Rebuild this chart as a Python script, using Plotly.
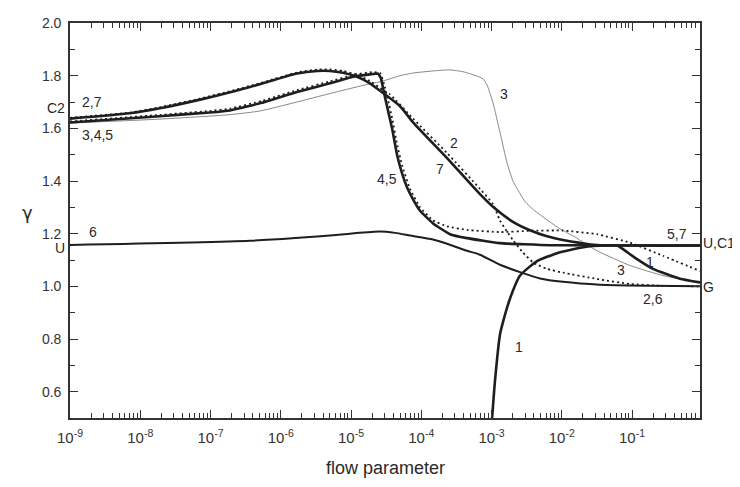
import math
import plotly.graph_objects as go

# ---------------- data ----------------
c1_x = [1.02e-3, 1.12e-3, 1.32e-3, 1.46e-3, 1.83e-3, 2.55e-3, 4.45e-3, 8.55e-3, 1.31e-2,
        2.52e-2, 4.0e-2, 6.11e-2, 7.45e-2, 0.118, 0.199, 0.482, 0.93]
c1_y = [0.50, 0.64, 0.817, 0.865, 0.953, 1.041, 1.096, 1.126, 1.138,
        1.152, 1.155, 1.155, 1.141, 1.103, 1.066, 1.029, 1.015]

c2_x = [1e-9, 7.1e-9, 1.9e-8, 7.1e-8, 2.1e-7, 5.6e-7, 1.7e-6, 3.3e-6, 5.0e-6, 7.7e-6,
        1.22e-5, 1.86e-5, 2.86e-5, 3.59e-5, 7.64e-5, 2.33e-4, 6.86e-4, 1.05e-3, 1.32e-3,
        1.66e-3, 2.02e-3, 2.81e-3, 3.9e-3, 6.17e-3, 1.04e-2, 3.18e-2, 9.4e-2, 0.276, 0.93]
c2_y = [1.640, 1.660, 1.680, 1.713, 1.744, 1.775, 1.812, 1.823, 1.824, 1.818,
        1.803, 1.780, 1.745, 1.729, 1.637, 1.506, 1.370, 1.312, 1.250,
        1.208, 1.176, 1.128, 1.091, 1.066, 1.052, 1.028, 1.009, 1.002, 1.000]

c3_x = [1e-9, 1.9e-8, 1.9e-7, 5.1e-7, 1.7e-6, 5.0e-6, 1.48e-5, 2.86e-5, 5.0e-5, 7.64e-5,
        1.47e-4, 2.56e-4, 3.93e-4, 6.0e-4, 7.57e-4, 8.63e-4, 1.05e-3, 1.32e-3, 1.66e-3,
        2.02e-3, 2.55e-3, 3.0e-3, 4.0e-3, 5.78e-3, 9.0e-3, 1.55e-2, 3.18e-2, 9.4e-2,
        0.276, 0.93]
c3_y = [1.620, 1.635, 1.652, 1.666, 1.700, 1.732, 1.763, 1.780, 1.800, 1.810,
        1.818, 1.822, 1.815, 1.800, 1.788, 1.765, 1.697, 1.585, 1.470,
        1.400, 1.352, 1.322, 1.290, 1.258, 1.222, 1.187, 1.135, 1.079,
        1.041, 1.013]

c4_x = [1e-9, 1.9e-8, 9.8e-8, 1.9e-7, 5.4e-7, 1.7e-6, 5.0e-6, 1.07e-5, 2.06e-5, 2.59e-5,
        2.95e-5, 3.35e-5, 3.84e-5, 4.52e-5, 5.32e-5, 6.92e-5, 9.6e-5, 1.47e-4, 2.33e-4,
        4.48e-4, 1.32e-3, 3.53e-3, 1.04e-2, 3.18e-2, 9.4e-2, 0.276, 0.93]
c4_y = [1.626, 1.651, 1.666, 1.675, 1.704, 1.745, 1.778, 1.803, 1.814, 1.810,
        1.770, 1.710, 1.640, 1.540, 1.460, 1.370, 1.300, 1.250, 1.228,
        1.214, 1.206, 1.211, 1.212, 1.198, 1.166, 1.116, 1.058]

c5_x = [1e-9, 1.9e-8, 9.8e-8, 1.9e-7, 5.4e-7, 1.7e-6, 5.0e-6, 1.07e-5, 1.86e-5, 2.42e-5,
        2.67e-5, 2.95e-5, 3.35e-5, 3.84e-5, 4.52e-5, 5.32e-5, 6.27e-5, 7.64e-5, 9.6e-5,
        1.47e-4, 2.56e-4, 4.48e-4, 1.32e-3, 6.8e-3, 0.93]
c5_y = [1.622, 1.646, 1.660, 1.668, 1.697, 1.738, 1.771, 1.796, 1.805, 1.808,
        1.790, 1.735, 1.670, 1.600, 1.500, 1.430, 1.376, 1.330, 1.287,
        1.239, 1.198, 1.183, 1.164, 1.156, 1.155]

c6_x = [1e-9, 3.65e-7, 3.3e-6, 9.7e-6, 2.59e-5, 4.23e-5, 6.92e-5, 1.47e-4, 2.56e-4,
        4.48e-4, 6.86e-4, 1.32e-3, 2.55e-3, 4.9e-3, 1.04e-2, 3.5e-2, 0.18, 0.93]
c6_y = [1.157, 1.173, 1.189, 1.200, 1.208, 1.203, 1.193, 1.178, 1.158,
        1.135, 1.120, 1.082, 1.054, 1.030, 1.017, 1.006, 1.002, 1.000]

c7_x = [1e-9, 7.1e-9, 1.9e-8, 7.1e-8, 2.1e-7, 5.6e-7, 1.7e-6, 3.3e-6, 5.0e-6, 7.7e-6,
        1.22e-5, 1.86e-5, 2.86e-5, 4.99e-5, 7.64e-5, 2.33e-4, 6.86e-4, 1.05e-3, 2.02e-3,
        3.53e-3, 6.17e-3, 1.04e-2, 1.82e-2, 3.18e-2, 0.93]
c7_y = [1.637, 1.657, 1.676, 1.709, 1.740, 1.771, 1.808, 1.818, 1.818, 1.811,
        1.796, 1.771, 1.734, 1.684, 1.623, 1.487, 1.350, 1.302, 1.245,
        1.213, 1.190, 1.176, 1.165, 1.157, 1.155]

x_tick_vals = [1e-9, 1e-8, 1e-7, 1e-6, 1e-5, 1e-4, 1e-3, 1e-2, 1e-1]
x_tick_text = ["10<sup>-9</sup>", "10<sup>-8</sup>", "10<sup>-7</sup>", "10<sup>-6</sup>",
               "10<sup>-5</sup>", "10<sup>-4</sup>", "10<sup>-3</sup>", "10<sup>-2</sup>",
               "10<sup>-1</sup>"]
x_minor_vals = [m * d for d in x_tick_vals for m in range(2, 10)]

# curve labels inside the frame: (text, x value, y value)
labels_in = [
    ("2,7", 2.06e-9, 1.688),
    ("3,4,5", 2.5e-9, 1.562),
    ("6", 2.13e-9, 1.194),
    ("4,5", 3.27e-5, 1.395),
    ("7", 1.87e-4, 1.436),
    ("2", 2.96e-4, 1.532),
    ("3", 1.53e-3, 1.718),
    ("1", 2.43e-3, 0.759),
    ("3", 6.97e-2, 1.052),
    ("1", 0.181, 1.082),
    ("5,7", 0.44, 1.189),
    ("2,6", 0.199, 0.942),
]
# labels beside the frame: (text, side, y value)
labels_out = [
    ("C2", "left", 1.666),
    ("U", "left", 1.133),
    ("U,C1", "right", 1.154),
    ("G", "right", 0.985),
]

FONT = "Liberation Sans, Arial, sans-serif"
INK = "#1e1e1e"
TXT = "#2a2a2a"

fig = go.Figure()
thick = 2.6

fig.add_trace(go.Scatter(x=c3_x, y=c3_y, mode="lines",
                         line=dict(color="#7a7a7a", width=0.9, shape="spline", smoothing=0.5)))
fig.add_trace(go.Scatter(x=c6_x, y=c6_y, mode="lines",
                         line=dict(color=INK, width=2.0, shape="spline", smoothing=0.6)))
fig.add_trace(go.Scatter(x=c2_x, y=c2_y, mode="lines",
                         line=dict(color=INK, width=1.8, dash="2px,3px", shape="spline", smoothing=0.5)))
fig.add_trace(go.Scatter(x=c4_x, y=c4_y, mode="lines",
                         line=dict(color=INK, width=1.8, dash="2px,3px", shape="spline", smoothing=0.3)))
fig.add_trace(go.Scatter(x=c5_x, y=c5_y, mode="lines",
                         line=dict(color=INK, width=thick, shape="spline", smoothing=0.3)))
fig.add_trace(go.Scatter(x=c7_x, y=c7_y, mode="lines",
                         line=dict(color=INK, width=thick, shape="spline", smoothing=0.6)))
fig.add_trace(go.Scatter(x=c1_x, y=c1_y, mode="lines",
                         line=dict(color=INK, width=thick, shape="spline", smoothing=0.5)))

annotations = []
for text, xv, yv in labels_in:
    annotations.append(dict(text=text, x=math.log10(xv), y=yv, xref="x", yref="y",
                            xanchor="center", yanchor="middle", showarrow=False, yshift=3,
                            font=dict(family=FONT, size=14, color=TXT)))
for text, side, yv in labels_out:
    annotations.append(dict(text=text, x=-0.006 if side == "left" else 1.003, y=yv,
                            xref="paper", yref="y",
                            xanchor="right" if side == "left" else "left",
                            yanchor="middle", showarrow=False, yshift=3, borderpad=0,
                            font=dict(family=FONT, size=14, color=TXT)))
annotations.append(dict(text="γ", x=-0.067, y=0.521, xref="paper", yref="paper",
                        xanchor="center", yanchor="middle", showarrow=False,
                        font=dict(family="DejaVu Sans, sans-serif", size=18, color=TXT)))
annotations.append(dict(text="flow parameter", x=0.5, y=-0.127, xref="paper", yref="paper",
                        xanchor="center", yanchor="middle", showarrow=False,
                        font=dict(family=FONT, size=18, color=TXT)))

axis_common = dict(showline=True, linecolor="#333", linewidth=1.6, mirror="ticks",
                   ticks="inside", ticklen=8, tickwidth=1.4, tickcolor="#333",
                   showgrid=False, zeroline=False)

fig.update_layout(
    width=740, height=471,
    margin=dict(l=62, r=48, t=7, b=61),
    paper_bgcolor="white", plot_bgcolor="white",
    showlegend=False,
    annotations=annotations,
    xaxis=dict(type="log", range=[-9, -0.032], tickmode="array",
               tickvals=x_tick_vals, ticktext=x_tick_text, ticklabelstandoff=5,
               tickfont=dict(family=FONT, size=15, color="#333"),
               minor=dict(tickmode="array", tickvals=x_minor_vals, ticks="inside",
                          ticklen=5, tickwidth=1.2, tickcolor="#333", showgrid=False),
               **axis_common),
    yaxis=dict(range=[0.5, 2.0], tick0=0, dtick=0.2, tickformat=".1f",
               ticklabelstandoff=4,
               tickfont=dict(family=FONT, size=14, color="#333"),
               minor=dict(dtick=0.1, ticks="inside", ticklen=5, tickwidth=1.2,
                          tickcolor="#333", showgrid=False),
               **axis_common),
)

fig.write_html("out.html")
